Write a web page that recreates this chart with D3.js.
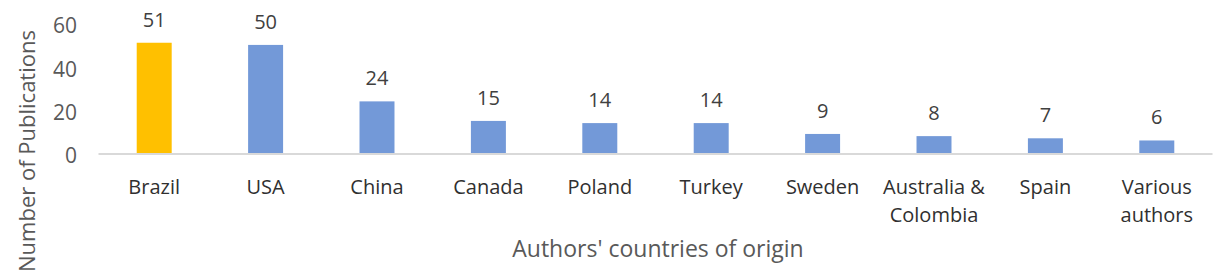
<!DOCTYPE html>
<html>
<head>
<meta charset="utf-8">
<script src="https://cdn.jsdelivr.net/npm/d3@7"></script>
<style>
  body { margin: 0; background: #fff; }
  text { font-family: "Open Sans", "Noto Sans", sans-serif; }
</style>
</head>
<body>
<div id="chart"></div>
<script>
// chart data
const countries = [
  ["Brazil"], ["USA"], ["China"], ["Canada"], ["Poland"], ["Turkey"],
  ["Sweden"], ["Australia &", "Colombia"], ["Spain"], ["Various", "authors"]
];
const publications = [51, 50, 24, 15, 14, 14, 9, 8, 7, 6];
const yTicks = [0, 20, 40, 60];
const highlight = "Brazil";

let width = 1220;
let height = 278;

let svg = d3.select('#chart').append('svg')
  .attr('width', width)
  .attr('height', height);

let names = countries.map(c => c.join(' '));

let x = d3.scaleBand()
  .domain(names)
  .range([98.5, 1212.5])
  .paddingInner(0.686)
  .paddingOuter(0.343);

let y = d3.scaleLinear()
  .domain([0, 60])
  .range([153.5, 23.2]);

// y tick labels
let yAxis = svg.append('g')
  .attr('transform', 'translate(77,0)')
  .call(d3.axisLeft(y).tickValues(yTicks).tickSize(0).tickPadding(0));
yAxis.select('.domain').remove();
yAxis.selectAll('text')
  .attr('fill', '#595959')
  .style('font-size', '21px')
  .attr('dy', '0.45em');

// bars
svg.selectAll('rect.bar')
  .data(publications)
  .enter()
  .append('rect')
  .attr('class', 'bar')
  .attr('x', (d, i) => x(names[i]))
  .attr('y', d => y(d))
  .attr('width', x.bandwidth())
  .attr('height', d => y(0) - y(d))
  .attr('fill', (d, i) => names[i] == highlight ? '#ffc000' : '#7399d8');

// baseline
svg.append('line')
  .attr('x1', x.range()[0])
  .attr('x2', x.range()[1])
  .attr('y1', y(0) + 0.5)
  .attr('y2', y(0) + 0.5)
  .attr('stroke', '#d9d9d9')
  .attr('stroke-width', 2);

// value labels
svg.selectAll('text.value')
  .data(publications)
  .enter()
  .append('text')
  .attr('class', 'value')
  .attr('x', (d, i) => x(names[i]) + x.bandwidth() / 2)
  .attr('y', d => y(d) - 16)
  .attr('text-anchor', 'middle')
  .attr('fill', '#404040')
  .style('font-size', '20px')
  .text(d => d);

// category labels
let cat = svg.selectAll('text.cat')
  .data(countries)
  .enter()
  .append('text')
  .attr('class', 'cat')
  .attr('text-anchor', 'middle')
  .attr('fill', '#303030')
  .style('font-size', '20px');
cat.each(function (lines, i) {
  let cx = x(names[i]) + x.bandwidth() / 2;
  lines.forEach((l, j) => {
    d3.select(this).append('tspan')
      .attr('x', cx)
      .attr('y', 194 + j * 28)
      .text(l);
  });
});

// axis titles
svg.append('text')
  .attr('x', 658)
  .attr('y', 257)
  .attr('text-anchor', 'middle')
  .attr('fill', '#595959')
  .style('font-size', '23px')
  .text("Authors' countries of origin");

svg.append('text')
  .attr('transform', 'translate(35,151) rotate(-90)')
  .attr('text-anchor', 'middle')
  .attr('fill', '#595959')
  .style('font-size', '22px')
  .text('Number of Publications');
</script>
</body>
</html>
